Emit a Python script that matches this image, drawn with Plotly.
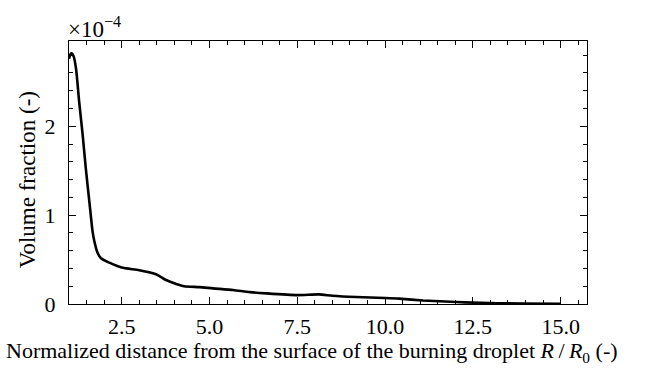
import plotly.graph_objects as go

# Normalized distance R/R0
r_norm = [1.0, 1.04, 1.085, 1.13, 1.2, 1.29, 1.39, 1.48, 1.58, 1.67, 1.72, 1.81, 1.91,
          2.15, 2.5, 3.0, 3.48, 3.76, 4.05, 4.28, 4.71, 5.1, 5.67, 6.15, 6.62, 7.5,
          8.12, 8.5, 9.17, 10.0, 10.4, 11.08, 12.03, 12.5, 13.88, 15.0]
# Volume fraction in units of 1e-4
vol_frac_e4 = [2.76, 2.81, 2.82, 2.79, 2.65, 2.275, 1.9, 1.52, 1.15, 0.82, 0.71, 0.58, 0.515,
               0.465, 0.41, 0.38, 0.335, 0.27, 0.226, 0.2, 0.19, 0.176, 0.157, 0.134, 0.12, 0.1,
               0.108, 0.093, 0.078, 0.067, 0.06, 0.04, 0.022, 0.015, 0.005, 0.003]

x_ticks = [2.5, 5.0, 7.5, 10.0, 12.5, 15.0]
x_ticklabels = ["2.5", "5.0", "7.5", "10.0", "12.5", "15.0"]
y_ticks = [0, 1, 2]
y_ticklabels = ["0", "1", "2"]

x_title = "Normalized distance from the surface of the burning droplet <i>R</i>\u2009/\u2009<i>R</i><sub>0</sub> (-)"
y_title = "Volume fraction (-)"

FONT = "Liberation Serif"

fig = go.Figure()
fig.add_trace(go.Scatter(x=r_norm, y=vol_frac_e4, mode="lines",
                         line=dict(color="black", width=2.6, shape="spline", smoothing=0.6),
                         showlegend=False))

axis_common = dict(showline=True, linecolor="black", linewidth=1.3, mirror="allticks",
                   ticks="inside", ticklen=7, tickwidth=1, tickcolor="black",
                   showgrid=False, zeroline=False, automargin=False,
                   tickfont=dict(family=FONT, size=22, color="black"))

fig.update_xaxes(range=[1.0, 15.75], tickvals=x_ticks, ticktext=x_ticklabels,
                 minor=dict(dtick=0.5, ticks="inside", ticklen=4, tickcolor="black", tickwidth=1, showgrid=False),
                 ticklabelstandoff=2, **axis_common)
fig.update_yaxes(range=[0, 2.96], tickvals=y_ticks, ticktext=y_ticklabels,
                 minor=dict(dtick=0.2, ticks="inside", ticklen=4, tickcolor="black", tickwidth=1, showgrid=False),
                 ticklabelstandoff=8, **axis_common)

# axis titles as annotations (pixel-precise placement)
fig.add_annotation(xref="paper", yref="paper", x=0.469, y=-0.1825, xanchor="center", yanchor="middle",
                   text=x_title, showarrow=False,
                   font=dict(family=FONT, size=22, color="black"))
fig.add_annotation(xref="paper", yref="paper", x=-0.081, y=0.471, xanchor="center", yanchor="middle",
                   text=y_title, showarrow=False, textangle=-90,
                   font=dict(family=FONT, size=23, color="black"))

fig.add_annotation(xref="paper", yref="paper", x=0, y=1, xanchor="left", yanchor="bottom",
                   text="×10<sup>−4</sup>", showarrow=False, yshift=-3, xshift=-3,
                   font=dict(family=FONT, size=23, color="black"))

fig.update_layout(width=649, height=369, margin=dict(l=69, r=62, t=41, b=65),
                  plot_bgcolor="white", paper_bgcolor="white")

fig.write_html("out.html")
